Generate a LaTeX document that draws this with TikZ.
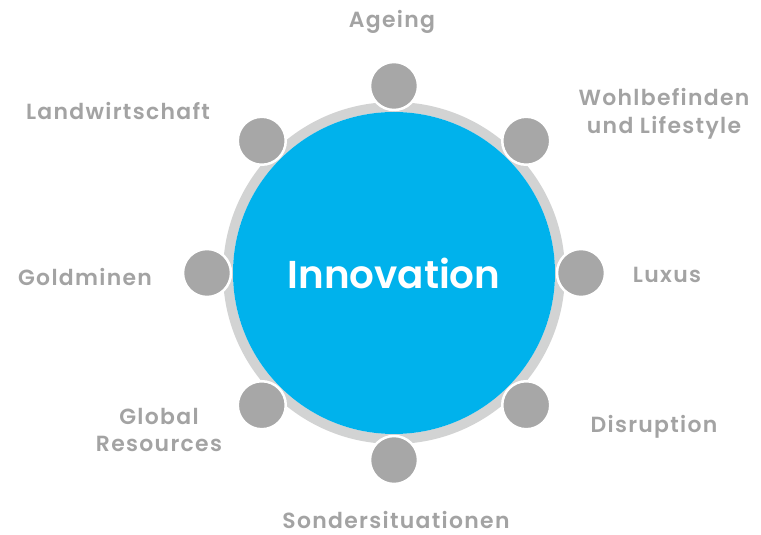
\documentclass[tikz,border=0pt]{standalone}
\usepackage{fontspec}
\newfontfamily\labelfont{Poppins}[UprightFont={* SemiBold}, BoldFont={* SemiBold}, LetterSpace=6]
\newfontfamily\hubfont{Poppins}[UprightFont={* SemiBold}]
\usepackage{tikz}
\usetikzlibrary{positioning}

\definecolor{innoblue}{HTML}{00B2EC}
\definecolor{ringgray}{HTML}{D2D3D3}
\definecolor{dotgray}{HTML}{A7A7A7}
\definecolor{textgray}{HTML}{A3A3A3}

\begin{document}
\begin{tikzpicture}[
    x=1bp, y=1bp,
    dot/.style={circle, fill=dotgray, draw=white, line width=2.5bp,
                minimum size=48bp, inner sep=0pt},
    topic/.style={font=\labelfont\fontsize{22}{28}\selectfont, text=textgray,
                  align=center, inner sep=0pt}
  ]
  \useasboundingbox (-394,-262) rectangle (367,273);

  % hub with its grey rim
  \draw[ringgray, line width=10bp] (0,0) circle (166);
  \node[circle, fill=innoblue, minimum size=322bp, inner sep=0pt] (hub) at (0,0) {};
  \node[font=\hubfont\fontsize{39}{40}\selectfont, text=white] (inno) at (0,0)
    {Innovation};

  % seats around the table
  \node[dot] (d1) at (90:187) {};
  \node[dot] (d2) at (45:187) {};
  \node[dot] (d3) at (0:187) {};
  \node[dot] (d4) at (-45:187) {};
  \node[dot] (d5) at (-90:187) {};
  \node[dot] (d6) at (-135:187) {};
  \node[dot] (d7) at (180:187) {};
  \node[dot] (d8) at (135:187) {};

  % topics
  \node[topic] (ageing) at (-2,251) {Ageing};
  \node[topic] (wohl) at (270,159) {Wohlbefinden\\und Lifestyle};
  \node[topic] (luxus) at (273,-2) {Luxus};
  \node[topic] (disr) at (260,-154) {Disruption};
  \node[topic] (sonder) at (2,-247) {Sondersituationen};
  \node[topic] (global) at (-235,-157) {Global\\Resources};
  \node[topic] (gold) at (-309,-4) {Goldminen};
  \node[topic] (land) at (-276,162) {Landwirtschaft};
\end{tikzpicture}
\end{document}
